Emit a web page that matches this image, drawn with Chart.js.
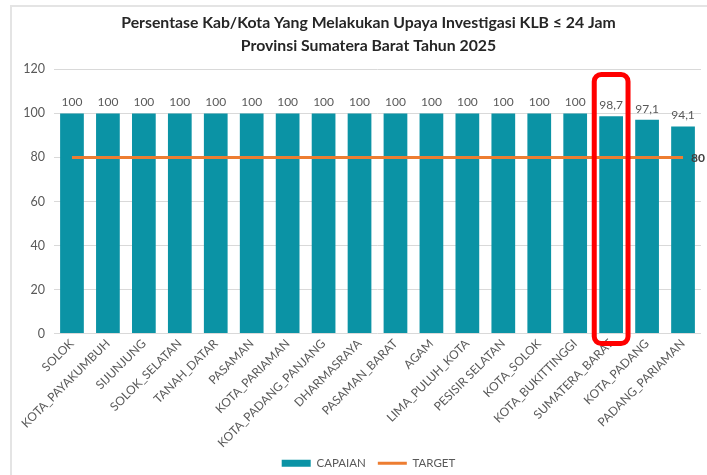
<!DOCTYPE html>
<html><head><meta charset="utf-8">
<script src="https://cdn.jsdelivr.net/npm/chart.js@4/dist/chart.umd.min.js"></script>
<style>
html,body{margin:0;padding:0;background:#fff;}
#wrap{position:relative;width:707px;height:475px;overflow:hidden;}
#frame{position:absolute;left:10px;top:5px;width:720px;height:500px;border-top:2px solid #e4e4e4;border-left:2px solid #e4e4e4;}
canvas{position:absolute;left:0;top:0;}
</style></head>
<body><div id="wrap"><div id="frame"></div><canvas id="c" width="707" height="475"></canvas></div>
<script>
const titleLines = ["Persentase Kab/Kota Yang Melakukan Upaya Investigasi KLB \u2264 24 Jam", "Provinsi Sumatera Barat Tahun 2025"];
const categories = ["SOLOK","KOTA_PAYAKUMBUH","SIJUNJUNG","SOLOK_SELATAN","TANAH_DATAR","PASAMAN","KOTA_PARIAMAN","KOTA_PADANG_PANJANG","DHARMASRAYA","PASAMAN_BARAT","AGAM","LIMA_PULUH_KOTA","PESISIR SELATAN","KOTA_SOLOK","KOTA_BUKITTINGGI","SUMATERA_BARAT","KOTA_PADANG","PADANG_PARIAMAN"];
const capaian = [100,100,100,100,100,100,100,100,100,100,100,100,100,100,100,98.7,97.1,94.1];
const target = [80,80,80,80,80,80,80,80,80,80,80,80,80,80,80,80,80,80];
const yTicks = [0,20,40,60,80,100,120];
const highlightCategory = "SUMATERA_BARAT";
const seriesNames = ["CAPAIAN","TARGET"];

const BAR = '#0B93A5', ORANGE = '#ED7D31', GREY = '#595959';
const FONT = 'Lato';

const fmt = v => String(v).replace('.', ',');

const annot = {
  id: 'annot',
  afterDatasetsDraw(chart) {
    const ctx = chart.ctx;
    const xs = chart.scales.x, ys = chart.scales.y;
    ctx.save();
    const barMeta = chart.getDatasetMeta(0);
    ctx.font = '12px ' + FONT;
    ctx.fillStyle = GREY;
    ctx.textAlign = 'center';
    ctx.textBaseline = 'bottom';
    barMeta.data.forEach((el, i) => {
      ctx.fillText(fmt(capaian[i]), el.x, el.y - 5);
    });
    const lineMeta = chart.getDatasetMeta(1);
    const last = lineMeta.data[lineMeta.data.length - 1];
    ctx.font = 'bold 12px ' + FONT;
    ctx.fillStyle = '#404040';
    ctx.textAlign = 'left';
    ctx.textBaseline = 'middle';
    ctx.fillText(String(target[target.length - 1]), last.x + 8, last.y + 1);
    const idx = categories.indexOf(highlightCategory);
    const cx = xs.getPixelForValue(idx);
    const half = xs.width / categories.length * 0.47;
    const top = ys.getPixelForValue(yTicks[yTicks.length - 1]) + 5;
    const bottom = ys.getPixelForValue(0) + 10;
    ctx.strokeStyle = '#FF0000';
    ctx.lineWidth = 5;
    ctx.beginPath();
    ctx.roundRect(cx - half, top, half * 2, bottom - top, 7);
    ctx.stroke();
    ctx.restore();
  }
};

const noLabelClip = s => { s._computeLabelArea = () => undefined; };

new Chart(document.getElementById('c'), {
  data: {
    labels: categories,
    datasets: [
      { type: 'bar', label: seriesNames[0], data: capaian, backgroundColor: BAR, borderWidth: 0,
        categoryPercentage: 1, barPercentage: 0.66, order: 2 },
      { type: 'line', label: seriesNames[1], data: target, borderColor: ORANGE, backgroundColor: ORANGE,
        borderWidth: 3, pointRadius: 0, tension: 0, order: 1 }
    ]
  },
  options: {
    responsive: false,
    animation: false,
    layout: { padding: { left: 36, right: 6, top: 0, bottom: -4 } },
    plugins: {
      title: {
        display: true, text: titleLines, color: '#262626',
        font: { family: FONT, size: 15.8, weight: 'bold', lineHeight: 1.47 },
        padding: { top: 11, bottom: 12 }
      },
      legend: {
        position: 'bottom',
        labels: {
          font: { family: FONT, size: 11.5 }, color: GREY,
          usePointStyle: true, pointStyleWidth: 29, boxHeight: 7, padding: 12,
          generateLabels: () => [
            { text: seriesNames[0], fillStyle: BAR, strokeStyle: BAR, lineWidth: 0, pointStyle: 'rect', datasetIndex: 0, fontColor: GREY },
            { text: seriesNames[1], fillStyle: ORANGE, strokeStyle: ORANGE, lineWidth: 3, pointStyle: 'line', datasetIndex: 1, fontColor: GREY }
          ]
        }
      },
      tooltip: { enabled: false }
    },
    scales: {
      x: {
        grid: { display: false, drawTicks: false, tickLength: 0 }, border: { display: false },
        ticks: { color: GREY, font: { family: FONT, size: 12 }, minRotation: 45, maxRotation: 45, autoSkip: false, padding: 3 },
        afterFit: s => { s.height = 112; noLabelClip(s); }
      },
      y: {
        min: 0, max: 120,
        afterBuildTicks: s => { s.ticks = yTicks.map(v => ({ value: v })); },
        ticks: { color: GREY, font: { family: FONT, size: 12.5 }, padding: 9 },
        grid: { color: '#d9d9d9', drawTicks: false },
        border: { display: false },
        afterFit: s => { s.width = 18; noLabelClip(s); }
      }
    }
  },
  plugins: [annot]
});
</script>
</body></html>
